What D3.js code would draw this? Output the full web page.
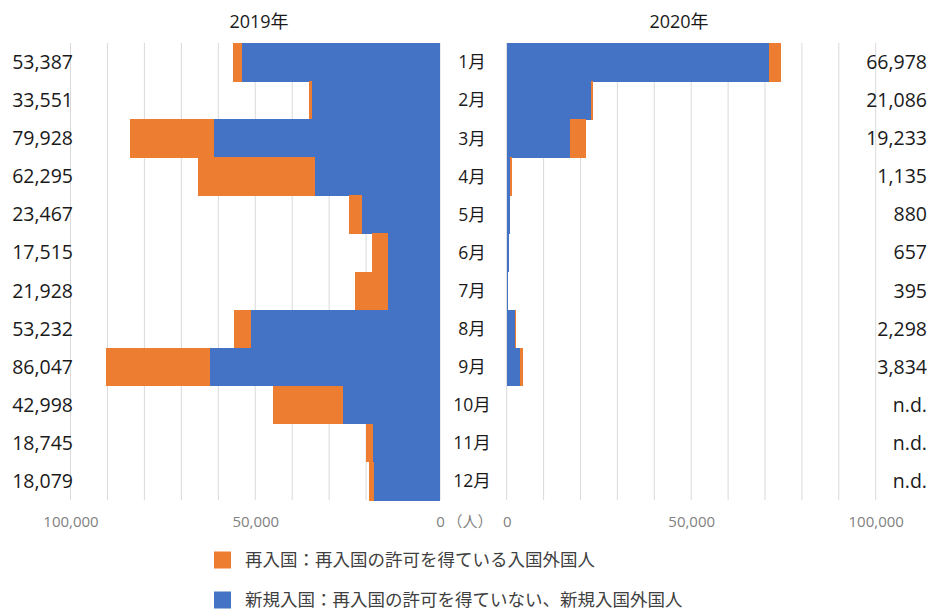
<!DOCTYPE html>
<html><head><meta charset="utf-8">
<script src="https://cdn.jsdelivr.net/npm/d3@7"></script>
<style>
body{margin:0;background:#fff;}
text{font-family:"Open Sans","Noto Sans CJK JP",sans-serif;}
</style></head>
<body>
<svg id="c" width="932" height="610"></svg>
<script>
const months = ["1月","2月","3月","4月","5月","6月","7月","8月","9月","10月","11月","12月"];
// 2019 (left panel)
const newEntry2019 = [53500,34700,61200,33900,21100,14200,14200,51200,62300,26200,18200,17800];
const reEntry2019  = [2500,700,22600,31500,3500,4200,8700,4600,28000,19000,1700,1400];
const labels2019   = ["53,387","33,551","79,928","62,295","23,467","17,515","21,928","53,232","86,047","42,998","18,745","18,079"];
// 2020 (right panel)
const newEntry2020 = [71200,22800,17200,900,900,700,450,2300,3500,0,0,0];
const reEntry2020  = [3100,500,4200,450,0,0,0,300,800,0,0,0];
const labels2020   = ["66,978","21,086","19,233","1,135","880","657","395","2,298","3,834","n.d.","n.d.","n.d."];
const tickValues = [0,50000,100000];
const gridValues = d3.range(0,100001,10000);
const legendItems = [
  {label:"再入国：再入国の許可を得ている入国外国人", color:"#ED7D31"},
  {label:"新規入国：再入国の許可を得ていない、新規入国外国人", color:"#4472C4"}
];
const titles = ["2019年","2020年"];

const blue = "#4472C4", orange = "#ED7D31";
const svg = d3.select("#c");

const y = d3.scaleBand().domain(months).range([43,500]).padding(0);
const xL = d3.scaleLinear().domain([0,100000]).range([440,70.5]);
const xR = d3.scaleLinear().domain([0,100000]).range([506.7,875.7]);

// gridlines
[xL,xR].forEach(x=>{
  svg.append("g").selectAll("line").data(gridValues).join("line")
    .attr("x1",d=>x(d)).attr("x2",d=>x(d))
    .attr("y1",43).attr("y2",500)
    .attr("stroke","#D9D9D9").attr("stroke-width",1);
});

function drawBars(x, nv, rv){
  const g = svg.append("g").attr("shape-rendering","crispEdges");
  months.forEach((m,i)=>{
    const x0=x(0), x1=x(nv[i]), x2=x(nv[i]+rv[i]);
    if(nv[i]>0) g.append("rect").attr("x",Math.min(x0,x1)).attr("width",Math.abs(x1-x0))
      .attr("y",y(m)).attr("height",y.bandwidth()+0.5).attr("fill",blue);
    if(rv[i]>0) g.append("rect").attr("x",Math.min(x1,x2)).attr("width",Math.abs(x2-x1))
      .attr("y",y(m)).attr("height",y.bandwidth()+0.5).attr("fill",orange);
  });
}
drawBars(xL,newEntry2019,reEntry2019);
drawBars(xR,newEntry2020,reEntry2020);

// value labels
svg.append("g").selectAll("text").data(labels2019).join("text")
  .attr("x",73).attr("y",(d,i)=>y(months[i])+y.bandwidth()/2).attr("dy","0.36em")
  .attr("text-anchor","end").attr("font-size",19.5).attr("fill","#1a1a1a").text(d=>d);
svg.append("g").selectAll("text").data(labels2020).join("text")
  .attr("x",927).attr("y",(d,i)=>y(months[i])+y.bandwidth()/2).attr("dy","0.36em")
  .attr("text-anchor","end").attr("font-size",19.5).attr("fill","#1a1a1a").text(d=>d);
// month labels
svg.append("g").selectAll("text").data(months).join("text")
  .attr("x",472).attr("y",d=>y(d)+y.bandwidth()/2).attr("dy","0.36em")
  .attr("text-anchor","middle").attr("font-size",17.5).attr("fill","#1a1a1a").text(d=>d);

// axes (tick labels only)
const fmt = d3.format(",");
const axL = d3.axisBottom(xL).tickValues(tickValues).tickFormat(fmt).tickSize(0).tickPadding(0);
const axR = d3.axisBottom(xR).tickValues(tickValues).tickFormat(fmt).tickSize(0).tickPadding(0);
[axL,axR].forEach(ax=>{
  const g = svg.append("g").attr("transform","translate(0,516)").call(ax);
  g.select(".domain").remove();
  g.selectAll("text").attr("font-size",15).attr("fill","#7f7f7f")
    .attr("font-family",'"Open Sans","Noto Sans CJK JP",sans-serif');
});
svg.append("text").attr("x",470).attr("y",527).attr("text-anchor","middle")
  .attr("font-size",15).attr("fill","#7f7f7f").attr("font-family",'"Noto Sans CJK JP",sans-serif').text("（人）");

// titles
svg.append("text").attr("x",259).attr("y",28).attr("text-anchor","middle")
  .attr("font-size",18).attr("fill","#1a1a1a").text(titles[0]);
svg.append("text").attr("x",679).attr("y",28).attr("text-anchor","middle")
  .attr("font-size",18).attr("fill","#1a1a1a").text(titles[1]);

// legend
const lg = svg.append("g");
legendItems.forEach((d,i)=>{
  const yy = 560 + i*40;
  lg.append("rect").attr("x",214).attr("y",yy-8.5).attr("width",17).attr("height",17).attr("fill",d.color);
  lg.append("text").attr("x",245).attr("y",yy).attr("dy","0.36em")
    .attr("font-size",17.5).attr("fill","#404040")
    .attr("font-family",'"Noto Sans CJK JP",sans-serif').text(d.label);
});
</script>
</body></html>
